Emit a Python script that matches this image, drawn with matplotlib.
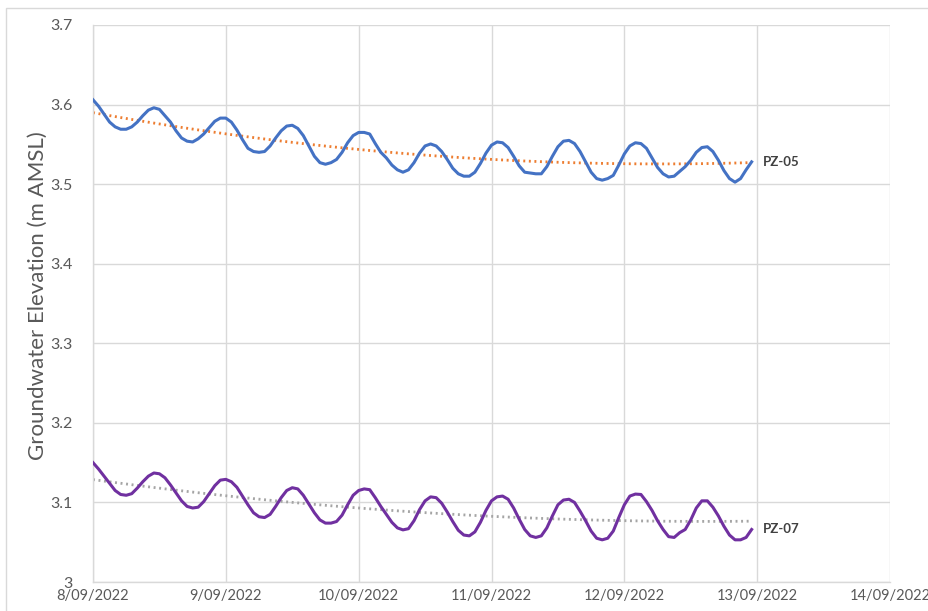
import numpy as np
import pandas as pd
import matplotlib

matplotlib.use("Agg")
import matplotlib.pyplot as plt
import matplotlib.dates as mdates
from matplotlib.patches import Rectangle
from matplotlib.ticker import FuncFormatter, MultipleLocator

# hourly logger readings, 8/09/2022 00:00 onwards (m AMSL)
pz05 = [
    3.606, 3.598, 3.588, 3.578, 3.572, 3.569, 3.569, 3.572, 3.578, 3.586,
    3.593, 3.596, 3.594, 3.586, 3.578, 3.567, 3.558, 3.554, 3.553, 3.557,
    3.563, 3.571, 3.579, 3.583, 3.583, 3.578, 3.568, 3.556, 3.545, 3.541,
    3.540, 3.541, 3.548, 3.558, 3.567, 3.573, 3.574, 3.570, 3.561, 3.548,
    3.535, 3.527, 3.525, 3.527, 3.531, 3.540, 3.552, 3.561, 3.565, 3.565,
    3.563, 3.551, 3.540, 3.533, 3.524, 3.518, 3.515, 3.518, 3.527, 3.539,
    3.548, 3.5505, 3.548, 3.541, 3.531, 3.520, 3.513, 3.510, 3.510, 3.515,
    3.526, 3.539, 3.549, 3.553, 3.552, 3.546, 3.535, 3.523, 3.515, 3.514,
    3.513, 3.513, 3.522, 3.535, 3.547, 3.554, 3.555, 3.551, 3.541, 3.528,
    3.515, 3.507, 3.505, 3.507, 3.511, 3.524, 3.538, 3.548, 3.552, 3.551,
    3.545, 3.533, 3.521, 3.513, 3.509, 3.510, 3.516, 3.522, 3.530, 3.540,
    3.546, 3.547, 3.541, 3.530, 3.517, 3.507, 3.5025, 3.507, 3.518, 3.528,
]
pz07 = [
    3.150, 3.142, 3.133, 3.124, 3.115, 3.110, 3.109, 3.111, 3.118, 3.126,
    3.133, 3.137, 3.136, 3.131, 3.122, 3.112, 3.102, 3.095, 3.093, 3.094,
    3.101, 3.111, 3.121, 3.128, 3.129, 3.126, 3.119, 3.108, 3.097, 3.087,
    3.082, 3.081, 3.085, 3.095, 3.106, 3.115, 3.1185, 3.117, 3.109, 3.098,
    3.087, 3.078, 3.074, 3.074, 3.076, 3.084, 3.097, 3.109, 3.115, 3.117,
    3.116, 3.106, 3.095, 3.085, 3.075, 3.068, 3.0655, 3.067, 3.077, 3.091,
    3.102, 3.107, 3.106, 3.099, 3.088, 3.076, 3.065, 3.059, 3.058, 3.063,
    3.075, 3.090, 3.102, 3.107, 3.108, 3.104, 3.093, 3.079, 3.066, 3.058,
    3.056, 3.058, 3.068, 3.083, 3.097, 3.103, 3.104, 3.100, 3.089, 3.077,
    3.064, 3.055, 3.053, 3.055, 3.064, 3.081, 3.097, 3.108, 3.1105, 3.110,
    3.101, 3.090, 3.077, 3.066, 3.057, 3.056, 3.062, 3.066, 3.078, 3.093,
    3.102, 3.102, 3.094, 3.083, 3.070, 3.059, 3.053, 3.053, 3.056, 3.066,
]
times = pd.date_range("2022-09-08 00:00", periods=len(pz05), freq="h")
series = [
    ("PZ-05", pz05, "#4472C4", "#ED7D31"),
    ("PZ-07", pz07, "#7030A0", "#A5A5A5"),
]

plt.rcParams["font.family"] = ["Lato", "DejaVu Sans"]

fig = plt.figure(figsize=(9.29, 6.11), dpi=100)
ax = fig.add_axes([93 / 929, 1 - 582 / 611, (890 - 93) / 929, (582 - 25) / 611])

hours = np.arange(len(times), dtype=float)
for name, vals, colour, trend_colour in series:
    vals = np.asarray(vals)
    ax.plot(times, vals, color=colour, lw=2.2, solid_joinstyle="round", zorder=3)
    # second-order polynomial trendline
    coef = np.polyfit(hours, vals, 2)
    ax.plot(times, np.polyval(coef, hours), color=trend_colour, lw=2.0,
            linestyle=(0, (0.7, 1.3)), dash_capstyle="butt", zorder=2)
    ax.annotate(name, (times[-1], vals[-1]), xytext=(8, 0), textcoords="offset points",
                ha="left", va="center", fontsize=9.5, fontweight="bold", color="#404040")

ax.set_xlim(pd.Timestamp("2022-09-08"), pd.Timestamp("2022-09-14"))
ax.set_ylim(3.0, 3.7)
ax.xaxis.set_major_locator(mdates.DayLocator())
ax.xaxis.set_major_formatter(FuncFormatter(
    lambda v, _: (lambda d: f"{d.day}/{d:%m/%Y}")(mdates.num2date(v))))
ax.yaxis.set_major_locator(MultipleLocator(0.1))
ax.yaxis.set_major_formatter(FuncFormatter(lambda v, _: f"{v:g}" if abs(v - 3) > 1e-9 else "3"))

ax.grid(True, color="#D9D9D9", lw=1.0)
ax.set_axisbelow(True)
for side in ("top", "right"):
    ax.spines[side].set_visible(False)
for side in ("left", "bottom"):
    ax.spines[side].set_color("#D9D9D9")
    ax.spines[side].set_linewidth(1.0)
ax.tick_params(length=0, colors="#595959", labelsize=10.5, pad=5)
ax.tick_params(axis="y", labelsize=11.5, pad=15)
ax.set_ylabel("Groundwater Elevation (m AMSL)", fontsize=16, color="#595959")
ax.yaxis.set_label_coords(-0.057, 0.515)

# chart-area border
fig.add_artist(Rectangle((6 / 929, -0.5), 2, 0.5 + 1 - 8 / 611, transform=fig.transFigure,
                         fill=False, edgecolor="#D9D9D9", lw=1.0))

fig.savefig("out.png", dpi=100)
